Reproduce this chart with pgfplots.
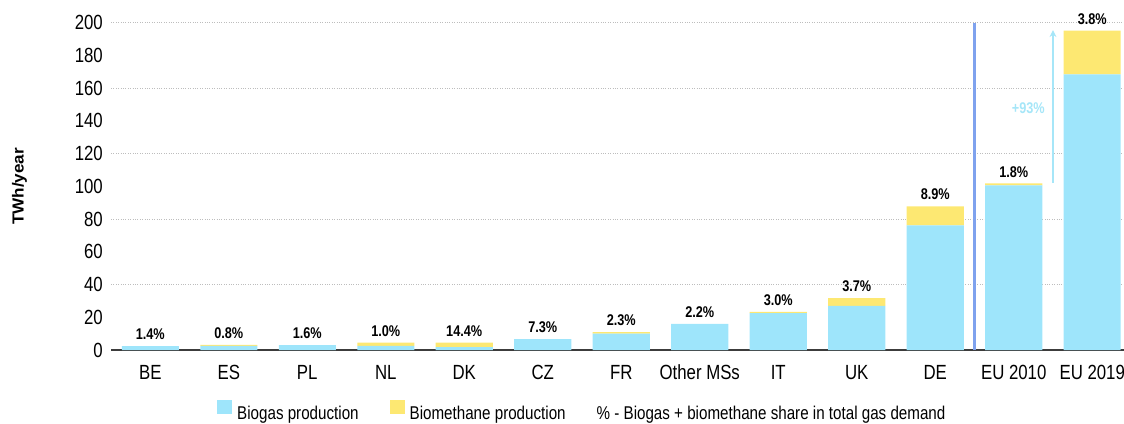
\documentclass[border=0pt]{standalone}
\usepackage{pgfplots}
\pgfplotsset{compat=1.18}
\usepackage{pgfplotstable}
\usepackage{fontspec}
\setmainfont{Liberation Sans}[FakeStretch=0.82]
\newfontfamily\ylabfont{Liberation Sans}[FakeStretch=1.07]
\usetikzlibrary{arrows.meta}
\definecolor{biogas}{HTML}{9EE5FB}
\definecolor{biometh}{HTML}{FDE872}
\definecolor{sepline}{HTML}{7FA2EE}
\definecolor{arrowc}{HTML}{A6E6F8}
\definecolor{axisc}{HTML}{3C3C3C}
\definecolor{gridc}{HTML}{BDBDBD}

\pgfplotstableread{
x biogas biometh total label
0 2.4 0.0 2.4 1.4
1 2.5 0.6 3.1 0.8
2 3.0 0.0 3.0 1.6
3 2.5 2.0 4.5 1.0
4 1.8 2.7 4.5 14.4
5 6.7 0.0 6.7 7.3
6 10.0 1.0 11.0 2.3
7 16.0 0.0 16.0 2.2
8 22.5 0.8 23.3 3.0
9 27.0 4.7 31.7 3.7
10 76.2 11.6 87.8 8.9
11 100.6 1.2 101.8 1.8
12 168.5 26.6 195.1 3.8
}\datatable

\pgfplotsset{common/.style={
  at={(111pt,-350pt)}, anchor=south west,
  scale only axis, width=1020.5pt, height=327.3pt,
  xmin=-0.5, xmax=12.5, ymin=0, ymax=200,
  clip=false}}

\begin{document}
\begin{tikzpicture}
\begin{axis}[
  common,
  ybar stacked, bar width=57pt,
  axis lines*=left,
  x axis line style={draw=axisc, line width=1.5pt},
  y axis line style={draw=none},
  major tick length=0pt,
  xtick={0,...,12},
  xticklabels={BE,ES,PL,NL,DK,CZ,FR,Other MSs,IT,UK,DE,EU 2010,EU 2019},
  ytick={0,20,...,200},
  extra y ticks={40,80,...,200},
  extra y tick labels={},
  extra y tick style={grid=major, major grid style={gridc, dotted, line width=0.9pt}},
  /pgf/number format/assume math mode=true,
  yticklabel style={font=\fontsize{20.5}{24}\selectfont, inner xsep=0pt, xshift=-8pt},
  xticklabel style={font=\fontsize{20.5}{24}\selectfont, inner sep=0pt, anchor=north, yshift=-15pt, text height=14pt, text depth=4pt},
  ylabel={\ylabfont\bfseries TWh/year},
  ylabel style={font=\fontsize{16}{19}\selectfont, at={(axis description cs:-0.0897,0.5)}, anchor=center},
  legend columns=3,
  legend style={draw=none, fill=none, inner sep=0pt, at={(axis description cs:0.1039,-0.185)}, anchor=west,
    font=\fontsize{18.5}{22}\selectfont,
    nodes={inner sep=0pt},
    /tikz/every odd column/.append style={column sep=5pt},
    /tikz/every even column/.append style={column sep=31pt}},
  legend image code/.code={\path[#1, draw=none] (0pt,0pt) rectangle (15pt,14pt);},
]
\addplot[fill=biogas, draw=none] table[x=x, y=biogas] {\datatable};
\addlegendentry{Biogas production}
\addplot[fill=biometh, draw=none] table[x=x, y=biometh] {\datatable};
\addlegendentry{Biomethane production}
\addlegendimage{empty legend}
\addlegendentry{\hspace{-5pt}\% - Biogas + biomethane share in total gas demand}
\draw[sepline, line width=3pt] (axis cs:10.5,0) -- (axis cs:10.5,200);
\draw[arrowc, line width=2pt, -{Stealth[length=7pt, width=7pt]}] (axis cs:11.5,102) -- (axis cs:11.5,195.5);
\node[anchor=east, inner sep=0pt, text=arrowc, font=\fontsize{15.5}{18}\selectfont\bfseries] at ([xshift=-8pt]axis cs:11.5,148) {+93\%};
\end{axis}
\begin{axis}[common, hide axis]
\addplot[draw=none, mark=none,
  nodes near coords={\pgfplotspointmeta\%},
  point meta=explicit symbolic,
  every node near coord/.append style={font=\fontsize{15.5}{18}\selectfont\bfseries, text=black, anchor=south, inner sep=0pt, yshift=6pt}
  ] table[x=x, y=total, meta=label] {\datatable};
\end{axis}
\pgfresetboundingbox
\path[use as bounding box] (0pt,0pt) rectangle (1124pt,-423pt);
\end{tikzpicture}
\end{document}
